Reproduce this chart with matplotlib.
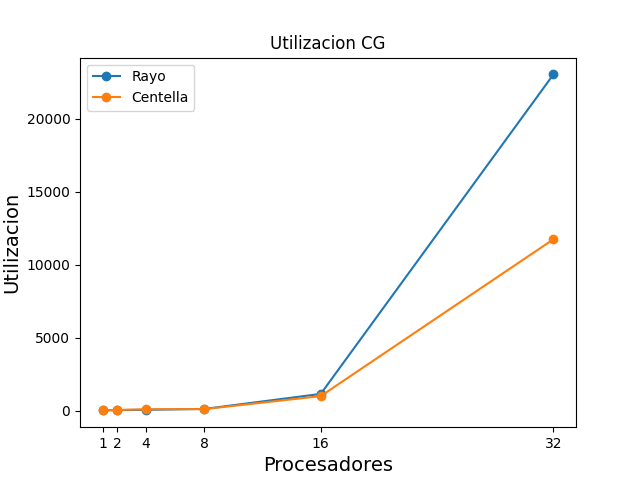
import matplotlib
matplotlib.use("Agg")
import matplotlib.pyplot as plt

procs = [1, 2, 4, 8, 16, 32]
rayo = [20, 40, 60, 120, 1150, 23050]
centella = [30, 50, 100, 110, 1000, 11750]

fig, ax = plt.subplots(figsize=(6.4, 4.8), dpi=100)
ax.plot(procs, rayo, marker='o', label='Rayo')
ax.plot(procs, centella, marker='o', label='Centella')
ax.set_xticks(procs)
ax.set_title('Utilizacion CG')
ax.set_xlabel('Procesadores', fontsize=14)
ax.set_ylabel('Utilizacion', fontsize=14)
ax.legend(loc='upper left')
fig.savefig('out.png')
